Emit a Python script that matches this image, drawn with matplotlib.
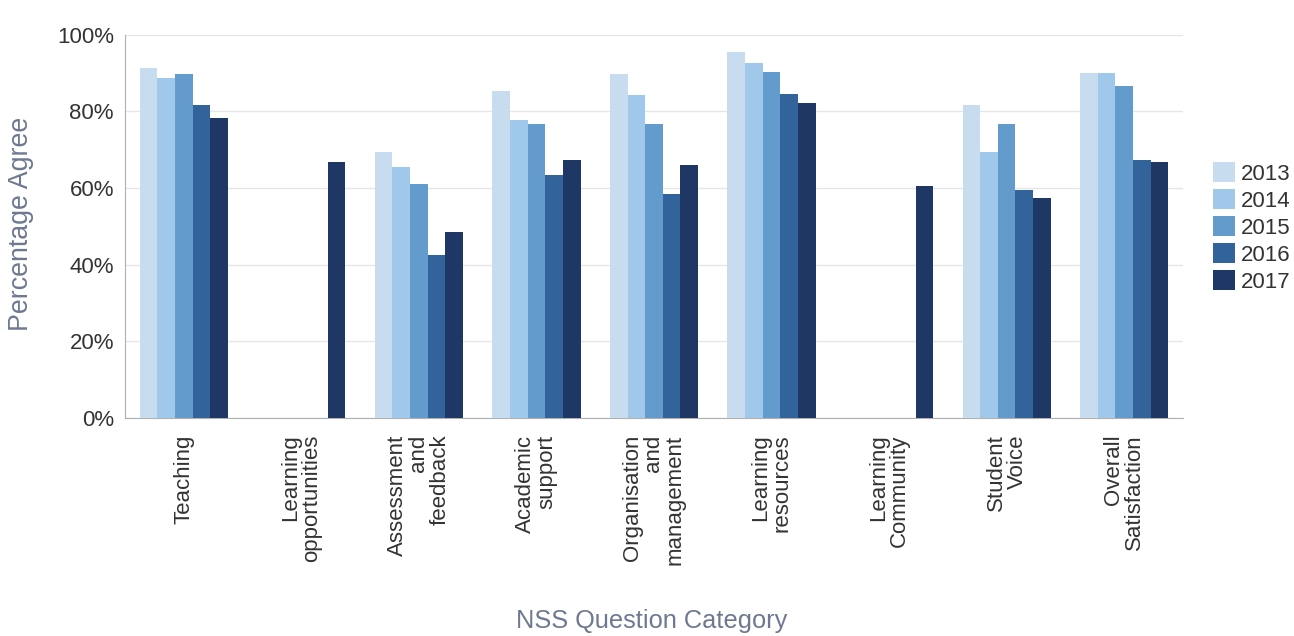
import matplotlib
matplotlib.use("Agg")
import matplotlib.pyplot as plt
import numpy as np
from matplotlib.patches import Patch

categories = ["Teaching", "Learning\nopportunities", "Assessment\nand\nfeedback",
              "Academic\nsupport", "Organisation\nand\nmanagement", "Learning\nresources",
              "Learning\nCommunity", "Student\nVoice", "Overall\nSatisfaction"]
years = ["2013", "2014", "2015", "2016", "2017"]
nan = np.nan
v2013 = [91.4, nan, 69.3, 85.4, 89.8, 95.4, nan, 81.6, 89.9]
v2014 = [88.6, nan, 65.5, 77.7, 84.3, 92.5, nan, 69.4, 89.9]
v2015 = [89.8, nan, 61.1, 76.6, 76.6, 90.4, nan, 76.6, 86.5]
v2016 = [81.6, nan, 42.4, 63.4, 58.4, 84.4, nan, 59.5, 67.2]
v2017 = [78.3, 66.7, 48.4, 67.2, 66.0, 82.2, 60.5, 57.4, 66.7]
series = [v2013, v2014, v2015, v2016, v2017]
colors = ["#c8dcf0", "#a0c8eb", "#649bcd", "#32649b", "#1e3764"]

plt.rcParams['font.family'] = ['Liberation Sans', 'DejaVu Sans']

fig = plt.figure(figsize=(12.94, 6.36), dpi=100)
ax = fig.add_axes([0.0966, 0.343, 0.8176, 0.6024])

x = np.arange(len(categories))
bw = 0.15
for i, (vals, c) in enumerate(zip(series, colors)):
    ax.bar(x + (i - 2) * bw, vals, width=bw, color=c, linewidth=0, zorder=3)

ax.set_xlim(-0.5, len(categories) - 0.5)
ax.set_ylim(0, 100)
ax.set_yticks([0, 20, 40, 60, 80, 100])
ax.set_yticklabels([f"{t}%" for t in [0, 20, 40, 60, 80, 100]], fontsize=16, color="#333333")
ax.tick_params(axis='y', length=0, pad=8)
ax.set_xticks(x)
ax.set_xticklabels(categories, rotation=90, fontsize=16, color="#333333",
                   va='top', ha='center', multialignment='right', linespacing=1.0)
ax.tick_params(axis='x', length=0, pad=12)
ax.grid(axis='y', color="#e6e6e6", linewidth=1, zorder=0)
for s in ["top", "right"]:
    ax.spines[s].set_visible(False)
ax.spines["left"].set_color("#b0b0b0")
ax.spines["bottom"].set_color("#b0b0b0")

ax.set_ylabel("Percentage Agree", fontsize=19.3, color="#6e7891")
ax.yaxis.set_label_coords(-0.086, 0.505)
fig.text(0.504, 0.0126, "NSS Question Category", fontsize=18.3, color="#6e7891",
         ha='center', va='baseline')

handles = [Patch(facecolor=c, edgecolor='none', label=y) for c, y in zip(colors, years)]
fig.legend(handles=handles, loc='center left', bbox_to_anchor=(0.9374, 0.642),
           frameon=False, fontsize=16, handlelength=1.0, handleheight=1.0,
           handletextpad=0.27, labelspacing=0.2, borderpad=0, borderaxespad=0,
           labelcolor="#333333")

fig.savefig("out.png", dpi=100, facecolor="white")
